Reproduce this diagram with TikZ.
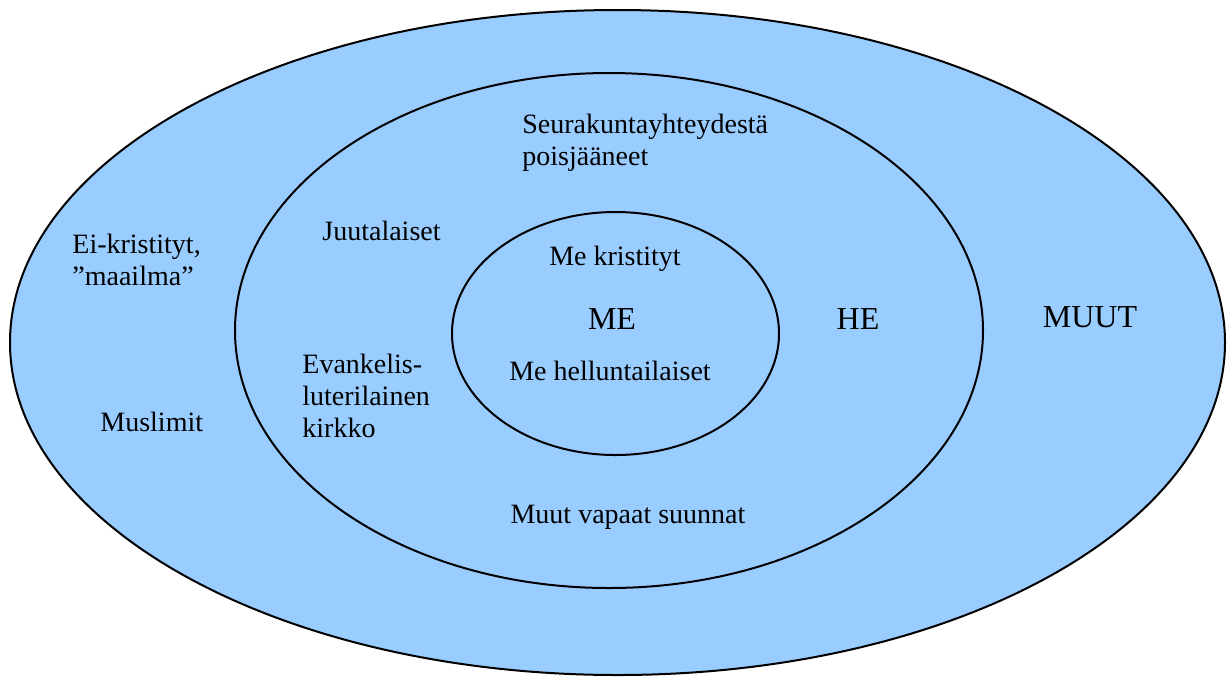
\documentclass[tikz,border=0pt]{standalone}
\usepackage{fontspec}
\setmainfont{Liberation Serif}
\usetikzlibrary{positioning}
\definecolor{ringblue}{HTML}{99CCFF}
\tikzset{
    ring/.style={draw=black, fill=ringblue, line width=1pt},
    txt/.style={font=\fontsize{14}{16}\selectfont, inner sep=0pt, align=left},
    bigtxt/.style={font=\fontsize{16}{19}\selectfont, inner sep=0pt},
}
\begin{document}
\begin{tikzpicture}[x=0.5pt, y=-0.5pt]
	\useasboundingbox (0,0) rectangle (1227,677);
	% rings
	\draw[ring] (617.5,342.5) ellipse (607.5 and 332.5);
	\draw[ring] (609,330.5) ellipse (374 and 257.5);
	\draw[ring] (615.5,333.5) ellipse (163.5 and 121.5);
	% outer ring
	\node[bigtxt] (muut) at (1090,317) {MUUT};
	\node[txt, anchor=west] (eikr) at (72,260) {Ei-kristityt,\\”maailma”};
	\node[txt, anchor=west] (musl) at (100,422) {Muslimit};
	% middle ring
	\node[bigtxt] (he) at (858,319) {HE};
	\node[txt, anchor=west] (seura) at (522,143) {Seurakuntayhteydestä\\poisjääneet};
	\node[txt, anchor=west] (juut) at (322,231) {Juutalaiset};
	\node[txt, anchor=west] (evank) at (302,395.5) {Evankelis-\\luterilainen\\kirkko};
	\node[txt] (vapaat) at (628,517) {Muut vapaat suunnat};
	% inner ring
	\node[bigtxt] (me) at (612,319) {ME};
	\node[txt] (mekr) at (615,259) {Me kristityt};
	\node[txt] (mehel) at (610,371) {Me helluntailaiset};
\end{tikzpicture}
\end{document}
